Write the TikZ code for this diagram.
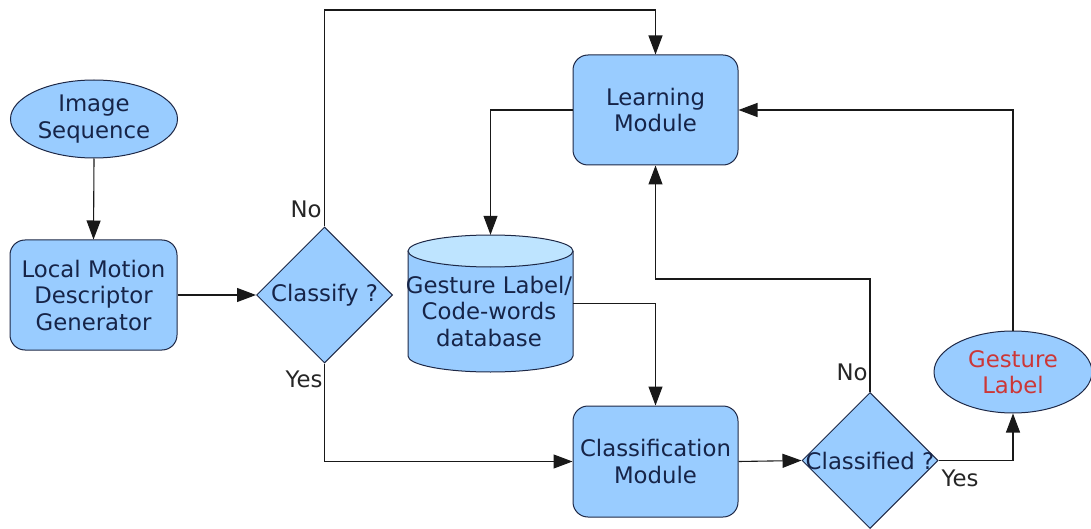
\documentclass[tikz,border=0pt]{standalone}
\usepackage{fontspec}
\setmainfont{DejaVu Sans}
\usetikzlibrary{shapes.geometric,arrows.meta}
\definecolor{boxfill}{RGB}{153,204,255}
\definecolor{topfill}{RGB}{190,228,255}
\definecolor{edgecol}{RGB}{30,40,70}
\definecolor{txtcol}{RGB}{22,36,72}
\definecolor{glred}{RGB}{204,55,55}
\begin{document}
\begin{tikzpicture}[x=1pt,y=-1pt,
  font=\fontsize{22.8}{26.5}\selectfont,
  base/.style={draw=edgecol, line width=1pt, fill=boxfill, text=txtcol, align=center, inner sep=0pt},
  proc/.style={base, rectangle, rounded corners=15pt, minimum width=165pt, minimum height=110pt},
  term/.style={base, ellipse},
  decision/.style={base, diamond, minimum width=136pt, minimum height=136pt},
  cylbody/.style={draw=edgecol, line width=1pt, fill=boxfill},
  cyltop/.style={draw=edgecol, line width=1pt, fill=topfill},
  txt/.style={text=txtcol, align=center, inner sep=0pt},
  arr/.style={-{Triangle[length=19pt,width=14pt]}, line width=1.1pt, black!90},
  lbl/.style={text=black!85, inner sep=0pt}]
\useasboundingbox (0,0) rectangle (1091,529);
\node[term, minimum width=167pt, minimum height=78pt] (img) at (94,119) {Image\\Sequence};
\node[proc, minimum width=167pt] (lmd) at (93.5,295) {Local Motion\\Descriptor\\Generator};
\node[decision] (cls) at (324.5,295) {};
\node[txt] (clsT) at (cls.center) {Classify ?};
\node[proc] (learn) at (655.5,110) {Learning\\Module};
% cylinder (database)
\path[cylbody] (408,251) -- (408,356)
  arc[start angle=180, end angle=360, x radius=82.5pt, y radius=16pt]
  -- (573,251);
\path[cyltop] (490.5,251) ellipse[x radius=82.5pt, y radius=16pt];
\node[minimum width=165pt, minimum height=137pt, inner sep=0pt] (db) at (490.5,303.5) {};
\node[txt] (dbT) at (489,311) {Gesture Label/\\Code-words\\database};
\node[proc, minimum height=111pt] (cm) at (655.5,461.5) {Classification\\Module};
\node[decision] (cld) at (870,460.5) {};
\node[txt] (cldT) at (cld.center) {Classified ?};
\node[term, minimum width=158pt, minimum height=82pt, text=glred] (gl) at (1013,372) {Gesture\\Label};
\coordinate (topY) at (0,10);
\coordinate (midY) at (0,279);
\draw[arr] (img.south) -- (lmd.north);
\draw[arr] (lmd.east) -- (cls.west);
\draw[arr] (cls.north) -- (cls.north |- topY) -| (learn.north);
\draw[arr] (gl.north) |- (learn.east);
\draw[arr] (learn.west) -| (db.north);
\draw[arr] (db.east) -| (cm.north);
\draw[arr] (cls.south) |- (cm.west);
\draw[arr] (cm.east) -- (cld.west);
\draw[arr] (cld.north) -- (cld.north |- midY) -| (learn.south);
\draw[arr] (cld.east) -| (gl.south);
\node[lbl] (no1) at (306,209) {No};
\node[lbl] (yes1) at (304,379) {Yes};
\node[lbl] (no2) at (852,372) {No};
\node[lbl] (yes2) at (960,478) {Yes};
\end{tikzpicture}
\end{document}
